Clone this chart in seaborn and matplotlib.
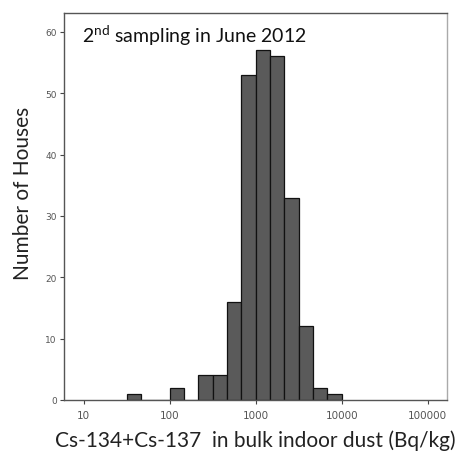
import numpy as np
import pandas as pd
import seaborn as sns
import matplotlib.pyplot as plt

# histogram: lower bin edge (log10 Bq/kg) and count
bin_lower_exp = [1.5, 2.0, 2.3333, 2.5, 2.6667, 2.8333, 3.0, 3.1667, 3.3333, 3.5, 3.6667, 3.8333]
house_counts = [1, 2, 4, 4, 16, 53, 57, 56, 33, 12, 2, 1]
bin_width_exp = 1 / 6
x_ticks = [10, 100, 1000, 10000, 100000]
y_ticks = [0, 10, 20, 30, 40, 50, 60]

centers = [10 ** (e + bin_width_exp / 2) for e in bin_lower_exp]
df = pd.DataFrame({"activity": centers, "houses": house_counts})

sns.set_theme(style="white")
fig = plt.figure(figsize=(4.63, 4.64), dpi=100)
ax = fig.add_axes([0.138, 0.136, 0.827, 0.834])

sns.histplot(data=df, x="activity", weights="houses", log_scale=True,
             binwidth=bin_width_exp, binrange=(1.5, 4.0),
             color="#5a5a5a", edgecolor="#111111", linewidth=0.9, alpha=1, ax=ax)

ax.set_xlim(5.9, 1.66e5)
ax.set_ylim(0, 63.1)
ax.set_xticks(x_ticks)
ax.set_xticklabels([str(t) for t in x_ticks])
ax.set_yticks(y_ticks)
ax.minorticks_off()
ax.tick_params(axis="both", which="major", length=3, width=0.8, color="#444444",
               labelsize=6.5, labelcolor="#555555", pad=2, direction="out",
               bottom=True, left=True)
ax.tick_params(axis="x", labelsize=7.5, pad=4)

for side in ["left", "bottom", "top"]:
    ax.spines[side].set_color("#555555")
    ax.spines[side].set_linewidth(1.0)
ax.spines["right"].set_color("#aaaaaa")
ax.spines["right"].set_linewidth(1.0)

ax.set_xlabel("Cs-134+Cs-137  in bulk indoor dust (Bq/kg)", fontsize=15,
              family=["Lato", "DejaVu Sans"], color="#222222", labelpad=7)
ax.set_ylabel("Number of Houses", fontsize=15, family=["Lato", "DejaVu Sans"],
              color="#222222")
ax.yaxis.set_label_coords(-0.08, 0.537)

ax.text(0.048, 0.945, "2$^{\\mathregular{nd}}$ sampling in June 2012", transform=ax.transAxes,
        fontsize=14, family=["Lato", "DejaVu Sans"], color="#111111", va="center", ha="left")

fig.savefig("out.png", dpi=100)
plt.close(fig)
